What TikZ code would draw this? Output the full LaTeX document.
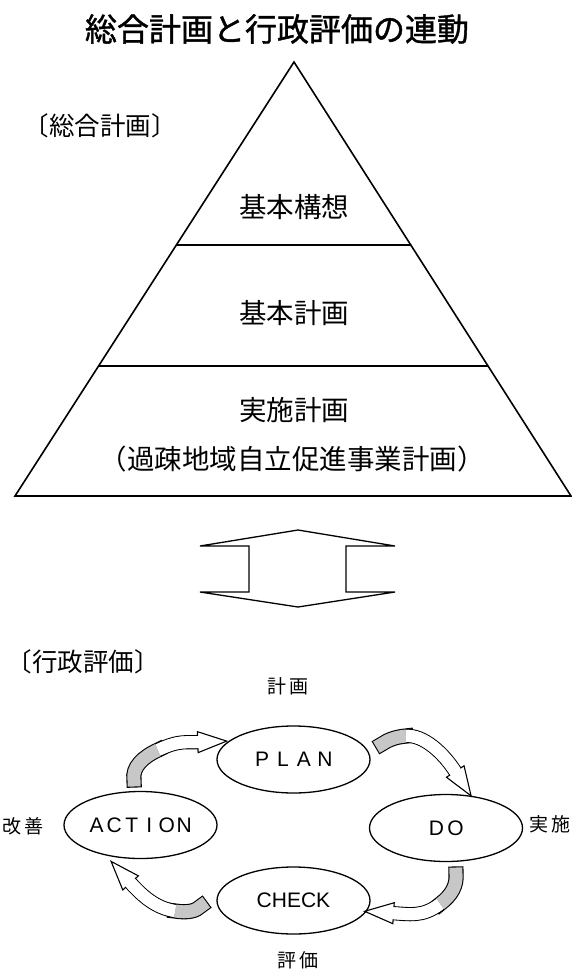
\documentclass[tikz,border=0pt]{standalone}
\usepackage{fontspec}
\setmainfont{Liberation Sans}
\newfontfamily\jpfont{Noto Sans CJK JP}
\newfontfamily\jptitle{Noto Sans CJK JP}[FakeBold=1.2]
\usetikzlibrary{shapes.geometric,calc}
\newlength\ltrw
\newcommand\ltr[1]{\makebox[\ltrw]{#1}}
% curved arrow: #1 tail S, #2 c1, #3 c2, #4 junction J, #5 c4, #6 end E
\newcommand\cva[6]{%
  \draw[band=black!22, double distance=13pt, line cap=rect] #1 .. controls #2 and #3 .. #4;
  \draw[band=white] #4 .. controls ($#3!2.5!#4$) and #5 .. #6;
  \path #4 .. controls ($#3!2.5!#4$) and #5 .. #6 node[ahead, pos=0.93] {};
  \draw[white, line width=12pt] #4 .. controls ($#3!2.5!#4$) and #5 .. #6;
}
\begin{document}
\begin{tikzpicture}[x=1pt,y=-1pt,
  jp/.style={font=\jpfont\fontsize{#1pt}{#1pt}\selectfont, inner sep=0pt},
  cyc/.style={ellipse, draw, line width=1.3pt, minimum width=153pt, minimum height=67pt, inner sep=0pt, font=\fontsize{21pt}{21pt}\selectfont},
  band/.style={draw=black, line width=1.1pt, double=#1, double distance=12pt},
  ahead/.style={isosceles triangle, isosceles triangle stretches, draw=black, line width=1.1pt, fill=white, minimum height=29pt, minimum width=21pt, inner sep=0pt, sloped, allow upside down, anchor=lower side},
  pyr/.style={line width=1.6pt}
]
\useasboundingbox (0,0) rectangle (572,969);
\clip (0,0) rectangle (572,969);

% title and heading
\node[inner sep=0pt, font=\jptitle\fontsize{32pt}{32pt}\selectfont] (title) at (277,29) {総合計画と行政評価の連動};
\node[jp=25.5] (sougou) at (100,126) {〔総合計画〕};

% pyramid
\coordinate (apex) at (294,62);
\coordinate (bl) at (15,496);
\coordinate (br) at (571,496);
\draw[pyr, line join=miter] (apex) -- (bl) -- (br) -- cycle;
\coordinate (l1a) at ($(apex)!0.4217!(bl)$);
\coordinate (l1b) at ($(apex)!0.4217!(br)$);
\coordinate (l2a) at ($(apex)!0.7005!(bl)$);
\coordinate (l2b) at ($(apex)!0.7005!(br)$);
\draw[pyr] (l1a) -- (l1b);
\draw[pyr] (l2a) -- (l2b);
\node[jp=27.5] (kousou) at (294,207) {基本構想};
\node[jp=27.5] (kihon) at (294,313) {基本計画};
\node[jp=27.5] (jisshi) at (294,410) {実施計画};
\node[jp=27.5] (kaso) at (292,459) {（過疎地域自立促進事業計画）};

% double arrow
\coordinate (ut) at (298,530);
\coordinate (dt) at (298,607);
\draw[line width=1.3pt, line join=miter] (ut) -- (395,546) -- (346,546) -- (346,592) -- (395,592) -- (dt) -- (200,592) -- (249,592) -- (249,546) -- (200,546) -- cycle;

% evaluation cycle
\node[jp=25.5] (gyousei) at (83,662) {〔行政評価〕};
\node[cyc] (plan) at (293.5,759.5) {\setlength\ltrw{21pt}\ltr{P}\ltr{L}\ltr{A}\ltr{N}};
\node[cyc] (do) at (446,828) {\setlength\ltrw{19pt}\ltr{D}\ltr{O}};
\node[cyc] (action) at (140.5,825) {\setlength\ltrw{17.5pt}\ltr{A}\ltr{C}\ltr{T}\ltr{I}\ltr{O}\ltr{N}};
\node[cyc] (check) at (293.5,900.5) {CHECK};

\node[jp=19] (lplan) at (288,686) {計\hspace{4pt}画};
\node[jp=19, anchor=east] (ldo) at (571,824) {実\hspace{3pt}施};
\node[jp=19] (laction) at (23,826) {改\hspace{3pt}善};
\node[jp=19] (lcheck) at (298,960) {評\hspace{4pt}価};

% curved arrows
\cva{(134,780)}{(132,767)}{(143,757)}{(158,750)}{(186,743)}{(200,742)}
\cva{(382,744)}{(388,740)}{(395,737)}{(406,736)}{(444,752)}{(458,776)}
\cva{(456,874)}{(457,885)}{(452,895)}{(440,904)}{(410,914)}{(390,913)}
\cva{(201,906)}{(196,911)}{(188,913)}{(175,911)}{(142,896)}{(128,880)}
\end{tikzpicture}
\end{document}
